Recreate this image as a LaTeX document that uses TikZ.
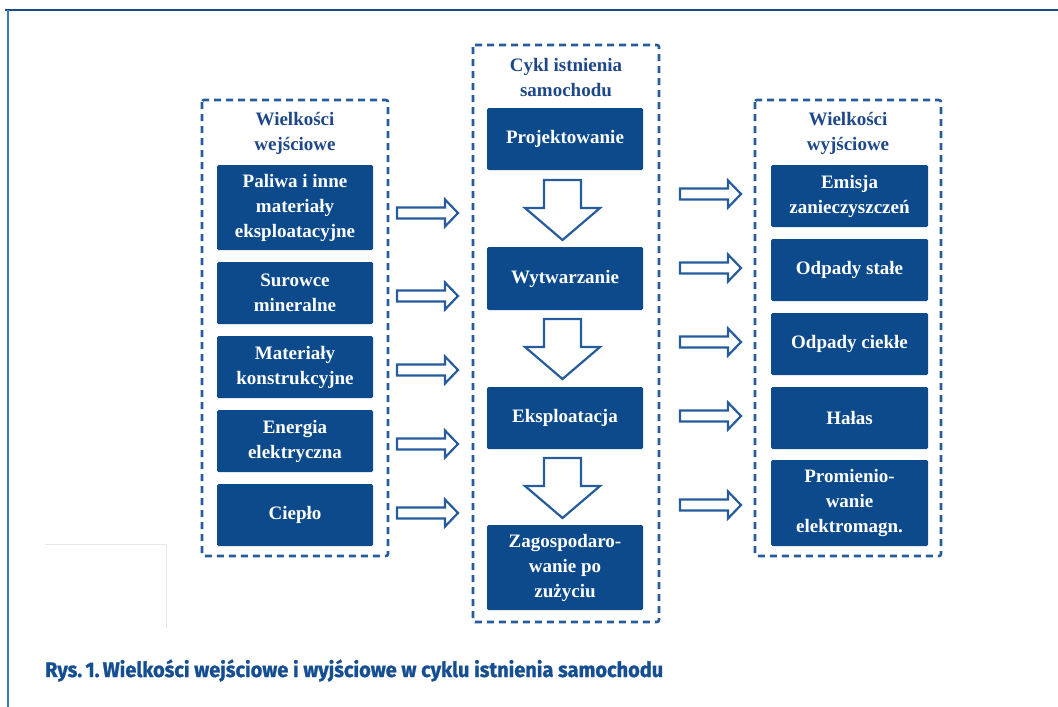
\documentclass[tikz,border=0pt]{standalone}
\usepackage{fontspec}
\usepackage{graphicx}
\setmainfont{Liberation Serif}
\newfontfamily\capfont{Fira Sans}[BoldFeatures={FakeBold=1.2}]
\definecolor{boxblue}{RGB}{12,74,140}
\definecolor{dashblue}{RGB}{38,92,156}
\definecolor{titleblue}{RGB}{30,72,138}
\definecolor{capblue}{RGB}{22,78,146}
\definecolor{frametop}{RGB}{24,76,136}
\definecolor{frameleft}{RGB}{60,120,186}
\definecolor{faintgray}{RGB}{232,232,232}
\tikzset{
  x=1pt, y=1pt,
  itembox/.style={fill=boxblue, draw=none, rounded corners=1.5pt, inner sep=0pt,
    text=white, align=center, minimum width=156pt,
    font=\bfseries\fontsize{19}{25}\selectfont},
  grouptitle/.style={text=titleblue, align=center, inner sep=0pt,
    font=\bfseries\fontsize{19}{25}\selectfont},
  groupframe/.style={draw=dashblue, line width=2.6pt, dash pattern=on 7pt off 5pt, rounded corners=2pt},
  blockarrow/.style={draw=dashblue, line width=2.2pt, fill=white, line join=miter},
  rarr/.pic={\draw[blockarrow] (0,5.5) -- (48,5.5) -- (48,13.5) -- (61,0) -- (48,-13.5) -- (48,-5.5) -- (0,-5.5) -- cycle;},
  darr/.pic={\draw[blockarrow] (-18.5,0) -- (18.5,0) -- (18.5,-28) -- (37.5,-28) -- (0,-60) -- (-37.5,-28) -- (-18.5,-28) -- cycle;}
}
\begin{document}
\begin{tikzpicture}
\useasboundingbox (0,0) rectangle (1058,-707);
% page frame
\draw[frametop, line width=2pt] (5,-9.5) -- (1058,-9.5);
\draw[frameleft, line width=2pt] (8,-9.5) -- (8,-707);
\draw[faintgray, line width=1pt] (45,-544.5) -- (166,-544.5) -- (166,-628);

% group frames
\draw[groupframe] (202,-100) rectangle (388,-556);
\draw[groupframe] (473,-45) rectangle (659,-622);
\draw[groupframe] (755,-100) rectangle (941,-556);

% titles
\node[grouptitle] (tin) at (295,-133) {Wielkości\\wejściowe};
\node[grouptitle] (tcyc) at (566,-78) {Cykl istnienia\\samochodu};
\node[grouptitle] (tout) at (848,-133) {Wielkości\\wyjściowe};

% left boxes
\node[itembox, minimum height=85pt] (in1) at (295,-207.5) {Paliwa i inne\\materiały\\eksploatacyjne};
\node[itembox, minimum height=62pt] (in2) at (295,-293) {Surowce\\mineralne};
\node[itembox, minimum height=62pt] (in3) at (295,-367) {Materiały\\konstrukcyjne};
\node[itembox, minimum height=62pt] (in4) at (295,-441) {Energia\\elektryczna};
\node[itembox, minimum height=62pt] (in5) at (295,-515) {Ciepło};

% middle boxes
\node[itembox, minimum height=62pt] (c1) at (565,-139) {Projektowanie};
\node[itembox, minimum height=63pt] (c2) at (565,-278.5) {Wytwarzanie};
\node[itembox, minimum height=62pt] (c3) at (565,-418) {Eksploatacja};
\node[itembox, minimum height=85pt] (c4) at (565,-567.5) {Zagospodaro-\\wanie po\\zużyciu};

% right boxes
\node[itembox, minimum height=62pt, minimum width=157pt] (o1) at (849.5,-196) {Emisja\\zanieczyszczeń};
\node[itembox, minimum height=62pt, minimum width=157pt] (o2) at (849.5,-270) {Odpady stałe};
\node[itembox, minimum height=62pt, minimum width=157pt] (o3) at (849.5,-344) {Odpady ciekłe};
\node[itembox, minimum height=62pt, minimum width=157pt] (o4) at (849.5,-418) {Hałas};
\node[itembox, minimum height=86pt, minimum width=157pt] (o5) at (849.5,-503) {Promienio-\\wanie\\elektromagn.};

% input arrows
\coordinate (ai1) at (397,-213);
\coordinate (ai2) at (397,-296);
\coordinate (ai3) at (397,-370);
\coordinate (ai4) at (397,-444);
\coordinate (ai5) at (397,-513);
\foreach \c in {ai1,ai2,ai3,ai4,ai5} \pic at (\c) {rarr};

% output arrows
\coordinate (ao1) at (680,-194);
\coordinate (ao2) at (680,-268);
\coordinate (ao3) at (680,-342);
\coordinate (ao4) at (680,-416);
\coordinate (ao5) at (680,-505);
\foreach \c in {ao1,ao2,ao3,ao4,ao5} \pic at (\c) {rarr};

% down arrows between stages
\coordinate (d1) at (562.5,-180);
\coordinate (d2) at (562.5,-319);
\coordinate (d3) at (562.5,-458);
\foreach \c in {d1,d2,d3} \pic at (\c) {darr};

% caption
\node[anchor=base west, inner sep=0pt, text=capblue] (cap) at (45,-677)
  {\resizebox{618pt}{\height}{\capfont\bfseries\fontsize{21}{25}\selectfont Rys.\,1.\,Wielkości wejściowe i wyjściowe w cyklu istnienia samochodu}};
\end{tikzpicture}
\end{document}
